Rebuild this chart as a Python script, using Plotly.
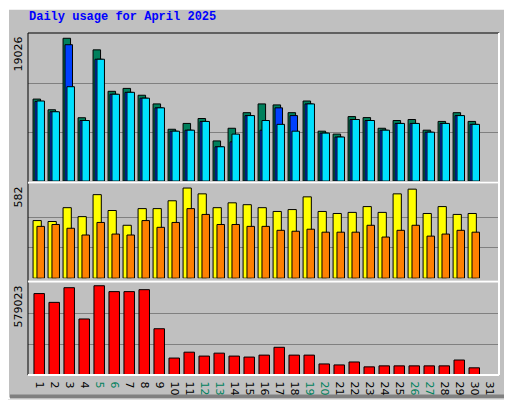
import plotly.graph_objects as go

days = list(range(1, 32))
day_labels = [str(d) for d in days]
weekend_days = [5, 6, 12, 13, 19, 20, 26, 27]

max_hits = 19026
max_visits = 582
max_kbytes = 579023

hits  = [10680, 9290, 18600, 8250, 17090, 11690, 12070, 11180, 10050, 6750, 7510, 8150, 5230, 6880, 8910, 10050,
         9920, 8910, 10430, 6500, 6120, 8400, 8270, 6880, 7890, 8020, 6630, 7770, 8910, 7770]
files = [10380, 9030, 17760, 7890, 15870, 11310, 11560, 10800, 9540, 6500, 6630, 7770, 4470, 5110, 8530, 6630,
         9540, 8530, 10050, 6250, 5740, 8020, 7890, 6630, 7510, 7510, 6370, 7510, 8530, 7390]
pages = [10430, 9030, 12290, 7890, 15870, 11310, 11560, 10800, 9540, 6500, 6630, 7770, 4470, 6120, 8530, 7890,
         7390, 6500, 10050, 6250, 5740, 8020, 7890, 6630, 7510, 7510, 6370, 7510, 8530, 7390]
visits = [367, 361, 449, 392, 532, 431, 337, 443, 443, 493, 574, 537, 449, 480, 468, 449, 425, 437, 518, 425,
          412, 419, 456, 419, 537, 567, 412, 456, 406, 412]
sites  = [330, 342, 318, 275, 355, 281, 275, 367, 324, 355, 443, 406, 342, 342, 330, 330, 305, 299, 312, 293,
          293, 293, 337, 262, 305, 337, 268, 281, 305, 293]
kbytes = [513200, 457800, 550200, 353100, 562500, 525500, 525500, 537800, 291500, 106800, 143800, 119200,
          137700, 119200, 113000, 125300, 174600, 125300, 125300, 69800, 63600, 82100, 51300, 57500, 57500,
          57500, 57500, 57500, 94400, 45200]

MONO = "Liberation Mono"
fig = go.Figure()

def bar(y, color, offset, width, yaxis):
    fig.add_trace(go.Bar(x=days[:len(y)], y=y, offset=offset, width=width, yaxis=yaxis,
                         marker=dict(color=color, line=dict(color="black", width=1)),
                         showlegend=False, hoverinfo="skip"))

bar(hits, "#00805C", -0.53, 0.5, "y")
bar(files, "#0040FF", -0.40, 0.5, "y")
bar(pages, "#00E0FF", -0.27, 0.5, "y")
bar(visits, "#FFFF00", -0.53, 0.55, "y2")
bar(sites, "#FF8000", -0.27, 0.5, "y2")
bar(kbytes, "#FF0000", -0.47, 0.7, "y3")

ticktext = [f"<span style='color:#00805C'>{l}</span>" if d in weekend_days else l
            for d, l in zip(days, day_labels)]

def yax(domain, m, top_frac):
    return dict(domain=domain, range=[0, m * top_frac], tickvals=[m / 3, 2 * m / 3],
                showticklabels=False, showgrid=True, gridcolor="#808080", gridwidth=1,
                zeroline=False, ticks="", fixedrange=True)

fig.update_layout(
    width=512, height=400, margin=dict(l=20, r=21, t=25, b=24),
    paper_bgcolor="#C0C0C0", plot_bgcolor="#C0C0C0", barmode="overlay",
    font=dict(family=MONO, size=12, color="black"),
    xaxis=dict(range=[0.133, 31.53], tickvals=days, ticktext=ticktext, ticks="", anchor="y3",
               showgrid=False, zeroline=False, tickfont=dict(family="DejaVu Sans", size=11)),
    yaxis=yax([0.567, 0.997], max_hits, 151 / 150),
    yaxis2=yax([0.283, 0.558], max_visits, 96.7 / 94),
    yaxis3=yax([0.0, 0.2735], max_kbytes, 95.7 / 94),
)

shapes = []
shapes.append(dict(type="rect", xref="paper", yref="paper", x0=-20/471, x1=1+21/471, y0=-24/351, y1=1+25/351,
                   line=dict(color="white", width=2), layer="below"))
shapes.append(dict(type="line", xref="paper", yref="paper", x0=1+19/471, x1=1+19/471, y0=-22/351, y1=1+23/351,
                   line=dict(color="#808080", width=4), layer="below"))
shapes.append(dict(type="line", xref="paper", yref="paper", x0=-18/471, x1=1+21/471, y0=-22/351, y1=-22/351,
                   line=dict(color="#808080", width=4), layer="below"))
for y0, y1 in [(0.562, 1.0), (0.2735, 0.562), (0.0, 0.2735)]:
    shapes.append(dict(type="rect", xref="paper", yref="paper", x0=0, x1=1, y0=y0, y1=y1,
                       line=dict(color="black", width=1)))
for yv in [0.562, 0.2735]:
    shapes.append(dict(type="line", xref="paper", yref="paper", x0=0, x1=1, y0=yv, y1=yv,
                       line=dict(color="white", width=2)))
shapes.append(dict(type="line", xref="paper", yref="paper", x0=1, x1=1, y0=0, y1=1, line=dict(color="white", width=2)))
shapes.append(dict(type="line", xref="paper", yref="paper", x0=0, x1=1, y0=0, y1=0, line=dict(color="white", width=2)))
fig.update_layout(shapes=shapes)

ann = []
ann.append(dict(text="<b>Daily usage for April 2025</b>", xref="paper", yref="paper", x=-1/471, y=1+16/351,
                xanchor="left", yanchor="middle", showarrow=False, font=dict(family=MONO, size=12, color="#0000FF")))
def left_label(txt, ypix):
    ann.append(dict(text=txt, xref="paper", yref="paper", x=-10/471, y=(376 - ypix) / 351, textangle=-90,
                    xanchor="center", yanchor="top", showarrow=False, font=dict(family="DejaVu Sans", size=11)))
left_label("19026", 27)
left_label("582", 181)
left_label("579023", 282)
def right_label(html, ypix):
    ann.append(dict(text=html, xref="paper", yref="paper", x=1 + 3/471, y=(376 - ypix) / 351, textangle=-90,
                    xanchor="left", yanchor="top", showarrow=False, font=dict(family=MONO, size=11)))
right_label("<span style='color:#00E0FF'>Pages</span> / <span style='color:#0040FF'>Files</span> / "
            "<span style='color:#00805C'>Hits</span>", 27)
right_label("<span style='color:#FF8000'>Sites</span> / <span style='color:#FFFF00'>Visits</span>", 197)
right_label("<span style='color:#FF0000'>KBytes</span>", 340)
fig.update_layout(annotations=ann)

fig.write_html("out.html")
